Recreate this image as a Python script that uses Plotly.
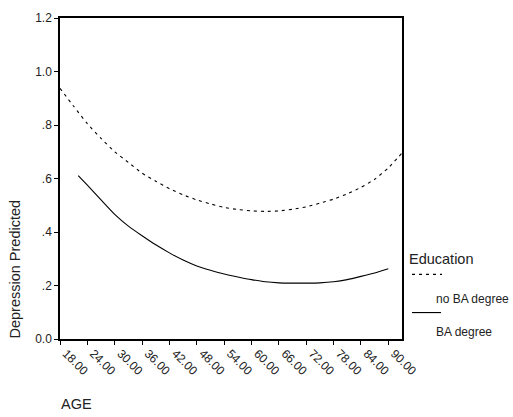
import plotly.graph_objects as go

# Predicted depression by age, split by education
ages_no_ba = [18, 21, 24, 27, 30, 33, 36, 39, 42, 45, 48, 51, 54, 57, 60,
              63, 66, 69, 72, 75, 78, 81, 84, 87, 90, 93]
pred_no_ba = [0.937, 0.870, 0.805, 0.750, 0.700, 0.660, 0.620, 0.590, 0.562,
              0.539, 0.520, 0.505, 0.492, 0.484, 0.479, 0.477, 0.479, 0.485,
              0.494, 0.508, 0.523, 0.543, 0.567, 0.597, 0.640, 0.695]

ages_ba = [22, 24, 27, 30, 33, 36, 39, 42, 45, 48, 51, 54, 57, 60, 63, 66,
           69, 72, 75, 78, 81, 84, 87, 90]
pred_ba = [0.611, 0.575, 0.520, 0.466, 0.422, 0.386, 0.352, 0.322, 0.295,
           0.273, 0.257, 0.243, 0.232, 0.222, 0.214, 0.210, 0.209, 0.209,
           0.210, 0.214, 0.222, 0.234, 0.247, 0.263]

x_tick_vals = [18, 24, 30, 36, 42, 48, 54, 60, 66, 72, 78, 84, 90]
x_tick_text = ["18.00", "24.00", "30.00", "36.00", "42.00", "48.00", "54.00",
               "60.00", "66.00", "72.00", "78.00", "84.00", "90.00"]
y_tick_vals = [0.0, 0.2, 0.4, 0.6, 0.8, 1.0, 1.2]
y_tick_text = ["0.0", ".2", ".4", ".6", ".8", "1.0", "1.2"]

legend_title = "Education"
group_names = ["no BA degree", "BA degree"]

FONT = "Liberation Sans, Arial, sans-serif"

fig = go.Figure()
fig.add_trace(go.Scatter(
    x=ages_no_ba, y=pred_no_ba, mode="lines", name=group_names[0],
    line=dict(color="black", width=1.1, dash="3px,4px", shape="spline", smoothing=0.6),
))
fig.add_trace(go.Scatter(
    x=ages_ba, y=pred_ba, mode="lines", name=group_names[1],
    line=dict(color="black", width=1.1, shape="spline", smoothing=0.6),
))

axis_common = dict(
    showgrid=False, zeroline=False, showline=True, linecolor="black",
    linewidth=1.5, mirror=True, ticks="outside", ticklen=4, tickwidth=1,
    tickcolor="black", tickfont=dict(family=FONT, size=12, color="#222"),
)

fig.update_xaxes(range=[18, 93], tickmode="array", tickvals=x_tick_vals,
                 ticktext=x_tick_text, tickangle=45, ticklabelshift=6,
                 ticklabelstandoff=-3, **axis_common)
fig.update_yaxes(range=[0, 1.2], tickmode="array", tickvals=y_tick_vals,
                 ticktext=y_tick_text, **axis_common)

# Plot area spans x 60..402, y 11..339 in a 513x417 page
L, R, T, B = 60, 402, 11, 339
W, H = R - L, B - T


def px(x):
    return (x - L) / W


def py(y):
    return (B - y) / H


annotations = [
    dict(text="Depression Predicted", x=px(15), y=py(268), textangle=-90,
         xanchor="center", yanchor="middle", font=dict(size=14.5)),
    dict(text="AGE", x=px(59), y=py(405), xanchor="left", yanchor="middle",
         font=dict(size=14.5)),
    dict(text=legend_title, x=px(407), y=py(257), xanchor="left",
         yanchor="middle", font=dict(size=14.5)),
    dict(text=group_names[0], x=px(434), y=py(298), xanchor="left",
         yanchor="middle", font=dict(size=12)),
    dict(text=group_names[1], x=px(434), y=py(332), xanchor="left",
         yanchor="middle", font=dict(size=12)),
]
for a in annotations:
    a.update(xref="paper", yref="paper", showarrow=False)
    a["font"].update(family=FONT, color="#222")

shapes = [
    dict(type="line", xref="paper", yref="paper", x0=px(412), x1=px(442),
         y0=py(273), y1=py(273), line=dict(color="black", width=1.1, dash="3px,4px")),
    dict(type="line", xref="paper", yref="paper", x0=px(412), x1=px(441),
         y0=py(312), y1=py(312), line=dict(color="black", width=1.1)),
]

fig.update_layout(
    width=513, height=417, autosize=False,
    margin=dict(l=L, r=513 - R, t=T, b=417 - B, pad=0),
    paper_bgcolor="white", plot_bgcolor="white",
    showlegend=False, annotations=annotations, shapes=shapes,
    font=dict(family=FONT, color="#222"),
)

fig.write_html("out.html")
